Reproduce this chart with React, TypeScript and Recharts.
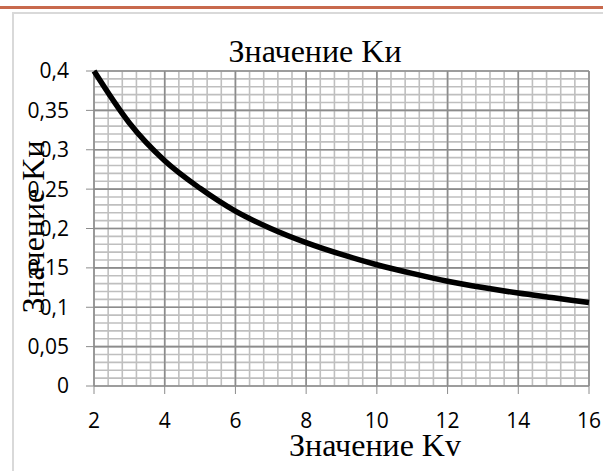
import { LineChart, Line, XAxis, YAxis, ReferenceLine } from 'recharts';

// Kv values along the x axis and Ku
const kv = [2, 3, 4, 5, 6, 7, 8, 9, 10, 11, 12, 13, 14, 15, 16];
const ku = [0.4, 0.334, 0.286, 0.251, 0.222, 0.2, 0.182, 0.167, 0.154, 0.143, 0.133, 0.125, 0.118, 0.112, 0.106];

const xTicks = [2, 4, 6, 8, 10, 12, 14, 16];
const yTicks = [0, 0.05, 0.1, 0.15, 0.2, 0.25, 0.3, 0.35, 0.4];

const title = 'Значение Kи';
const xTitle = 'Значение Kv';
const yTitle = 'Значение Kи';

// minor grid: 5 steps between major lines on both axes
const xMinor: number[] = [];
for (let i = 0; i <= 35; i++) xMinor.push(2 + i * 0.4);
const yMinor: number[] = [];
for (let i = 0; i <= 40; i++) yMinor.push(i * 0.01);

const data = kv.map((k, i) => ({ kv: k, ku: ku[i] }));

const major = '#8c8c8c';
const minor = '#bfbfbf';
const tickFont = { fill: '#000', fontSize: 21, fontFamily: '"Open Sans", sans-serif' };
const serif = '"Liberation Serif", "Times New Roman", serif';

export default function App() {
  return (
    <div style={{ position: 'absolute', left: 0, top: 0, width: 603, height: 471, background: '#fff', overflow: 'hidden' }}>
      <div style={{ position: 'absolute', left: 0, top: 6, width: 603, height: 3, background: '#c8694d' }} />
      <div
        style={{
          position: 'absolute',
          left: 12,
          top: 12,
          width: 620,
          height: 480,
          borderLeft: '2px solid #d9d9d9',
          borderTop: '2px solid #d9d9d9',
        }}
      />
      <div style={{ position: 'absolute', left: 0, top: 0 }}>
        <LineChart width={603} height={471} data={data} margin={{ top: 71, right: 14, bottom: 55, left: 34 }}>
          <XAxis
            dataKey="kv"
            type="number"
            domain={[2, 16]}
            ticks={xTicks}
            tick={tickFont}
            tickSize={8}
            tickMargin={19}
            height={30}
            stroke={major}
            axisLine={false}
          />
          <YAxis
            type="number"
            domain={[0, 0.4]}
            ticks={yTicks}
            tick={tickFont}
            tickSize={8}
            tickMargin={17}
            width={60}
            stroke={major}
            axisLine={false}
            tickFormatter={(v: number) => String(v).replace('.', ',')}
          />
          {xMinor.map((v) => (
            <ReferenceLine key={'xm' + v} x={v} stroke={minor} strokeWidth={1.6} />
          ))}
          {yMinor.map((v) => (
            <ReferenceLine key={'ym' + v} y={v} stroke={minor} strokeWidth={1.6} />
          ))}
          {xTicks.map((v) => (
            <ReferenceLine key={'xM' + v} x={v} stroke={major} strokeWidth={1.6} />
          ))}
          {yTicks.map((v) => (
            <ReferenceLine key={'yM' + v} y={v} stroke={major} strokeWidth={1.6} />
          ))}
          <Line
            type="monotone"
            dataKey="ku"
            stroke="#000"
            strokeWidth={5.5}
            dot={false}
            isAnimationActive={false}
          />
        </LineChart>
      </div>
      <svg width={603} height={471} style={{ position: 'absolute', left: 0, top: 0, pointerEvents: 'none' }}>
        <text x={315} y={62} textAnchor="middle" fontFamily={serif} fontSize={32} fill="#000">
          {title}
        </text>
        <text x={375} y={456} textAnchor="middle" fontFamily={serif} fontSize={32} fill="#000">
          {xTitle}
        </text>
        <text
          transform="translate(44, 227) rotate(-90)"
          textAnchor="middle"
          fontFamily={serif}
          fontSize={32}
          fill="#000"
        >
          {yTitle}
        </text>
      </svg>
    </div>
  );
}
